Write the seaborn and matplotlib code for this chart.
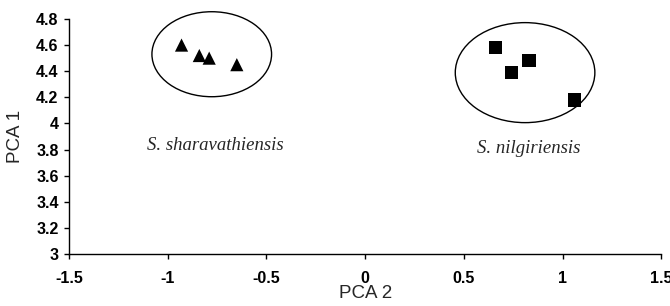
import matplotlib
matplotlib.use("Agg")
import matplotlib.pyplot as plt
from matplotlib.patches import Ellipse
from matplotlib.ticker import FuncFormatter, MultipleLocator
import seaborn as sns
import pandas as pd

# Data
sharav_pca2 = [-0.93, -0.84, -0.79, -0.65]
sharav_pca1 = [4.60, 4.52, 4.50, 4.45]
nilg_pca2 = [0.66, 0.74, 0.83, 1.06]
nilg_pca1 = [4.58, 4.39, 4.48, 4.18]
species = ["S. sharavathiensis", "S. nilgiriensis"]

# Group ellipses: (center x, center y, width, height)
ellipse_sharav = (-0.777, 4.53, 0.606, 0.651)
ellipse_nilg = (0.81, 4.389, 0.707, 0.766)
label_pos = {"S. sharavathiensis": (-0.76, 3.83), "S. nilgiriensis": (0.83, 3.81)}

df = pd.DataFrame({
    "PCA 2": sharav_pca2 + nilg_pca2,
    "PCA 1": sharav_pca1 + nilg_pca1,
    "species": [species[0]] * len(sharav_pca2) + [species[1]] * len(nilg_pca2),
})

sns.set_style("ticks")
plt.rcParams["font.family"] = ["Liberation Sans", "DejaVu Sans"]
plt.rcParams["axes.unicode_minus"] = False

fig = plt.figure(figsize=(6.7, 3.06), dpi=100)
ax = fig.add_axes([0.103, 0.170, 0.884, 0.768])

sns.scatterplot(data=df, x="PCA 2", y="PCA 1", style="species",
                markers={species[0]: "^", species[1]: "s"},
                color="black", s=90, edgecolor="black", linewidth=0,
                legend=False, ax=ax, zorder=3)

for (cx, cy, w, h) in (ellipse_sharav, ellipse_nilg):
    ax.add_patch(Ellipse((cx, cy), w, h, fill=False, edgecolor="black",
                         linewidth=1.0, zorder=2, clip_on=False))

for name, (tx, ty) in label_pos.items():
    ax.text(tx, ty, name, ha="center", va="center", fontsize=13.5,
            fontstyle="italic", family=["Liberation Serif", "DejaVu Serif"])

ax.set_xlim(-1.5, 1.5)
ax.set_ylim(3.0, 4.8)
ax.xaxis.set_major_locator(MultipleLocator(0.5))
ax.yaxis.set_major_locator(MultipleLocator(0.2))
fmt = FuncFormatter(lambda v, p: f"{round(v, 2):g}")
ax.xaxis.set_major_formatter(fmt)
ax.yaxis.set_major_formatter(fmt)

for lab in ax.get_xticklabels() + ax.get_yticklabels():
    lab.set_fontweight("bold")
ax.tick_params(axis="both", labelsize=11.5, direction="out", length=3.5,
               width=1, color="black", labelcolor="black")
ax.tick_params(axis="x", pad=9)
ax.tick_params(axis="y", pad=4)

ax.set_xlabel("PCA 2", fontsize=13.5, labelpad=-1)
ax.set_ylabel("PCA 1", fontsize=13.5, labelpad=9)

sns.despine(ax=ax)
for sp in ("left", "bottom"):
    ax.spines[sp].set_linewidth(1.0)
    ax.spines[sp].set_color("black")

fig.savefig("out.png", dpi=100)
